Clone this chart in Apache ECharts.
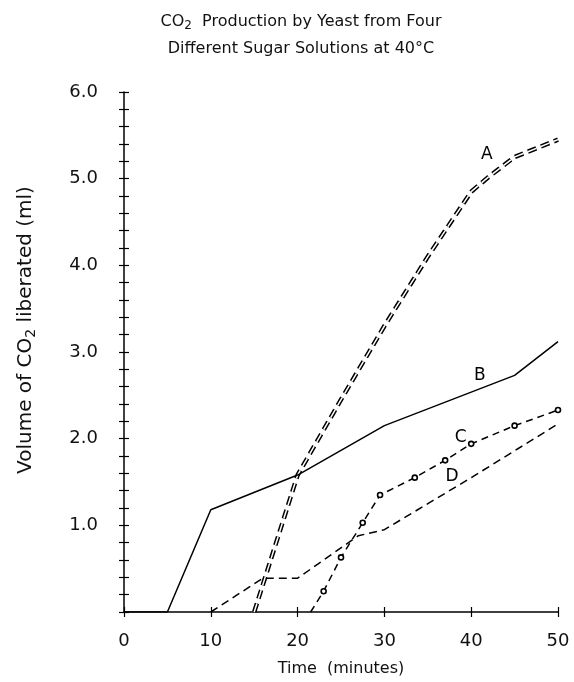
<!DOCTYPE html>
<html>
<head>
<meta charset="utf-8">
<script src="https://cdn.jsdelivr.net/npm/echarts@6/dist/echarts.min.js"></script>
<style>
  html, body { margin: 0; padding: 0; background: #fff; }
  #chart { width: 574px; height: 682px; }
</style>
</head>
<body>
<div id="chart"></div>
<script>
// values: [minutes, ml]
var curveA = [[15, 0], [20, 1.58], [25, 2.45], [30, 3.3], [35, 4.1], [40, 4.85], [42, 5.02], [45, 5.25], [50, 5.45]];
var curveB = [[0, 0], [5, 0], [10, 1.18], [20, 1.58], [30, 2.15], [45, 2.73], [50, 3.12]];
var curveC = [[21.5, 0], [23, 0.24], [25, 0.63], [27.5, 1.03], [29.5, 1.35], [33.5, 1.55], [37, 1.75], [40, 1.94], [45, 2.15], [50, 2.33]];
var curveD = [[10, 0], [16, 0.39], [20, 0.39], [27, 0.88], [30, 0.95], [40, 1.55], [50, 2.17]];

// where the letters sit next to their curves
var labelNames = ['A', 'B', 'C', 'D'];
var labelCoords = [[41.8, 5.28], [41, 2.73], [38.8, 2.01], [37.8, 1.56]];

var font = 'DejaVu Sans';

var myChart = echarts.init(document.getElementById('chart'));

function letter(i) {
  return {
    symbol: 'circle',
    symbolSize: 1,
    itemStyle: { color: 'rgba(0,0,0,0)' },
    label: { show: true, position: 'inside', color: '#000', fontSize: 17, fontFamily: font },
    data: [{ coord: labelCoords[i], value: labelNames[i] }]
  };
}

function yFmt(v) {
  var r = Math.round(v);
  return (Math.abs(v - r) < 1e-6 && r > 0) ? r.toFixed(1) : '';
}

var axisLine = { lineStyle: { color: '#000', width: 1.5 } };

var option = {
  animation: false,
  backgroundColor: '#fff',
  title: {
    left: 296,
    textAlign: 'center',
    top: 3,
    text: '{a|CO}{s|2}{a|  Production by Yeast from Four}\n{a|Different Sugar Solutions at 40°C}',
    textStyle: {
      rich: {
        a: { fontFamily: font, fontSize: 16, fontWeight: 'normal', color: '#111', lineHeight: 27 },
        s: { fontFamily: font, fontSize: 12, fontWeight: 'normal', color: '#111', padding: [9, 0, 0, 0], lineHeight: 27 }
      }
    }
  },
  grid: { left: 124, right: 16, top: 92, bottom: 70 },
  xAxis: [{
    type: 'value',
    min: 0,
    max: 50,
    interval: 10,
    splitLine: { show: false },
    axisLine: axisLine,
    axisTick: { show: true, length: 5, lineStyle: { color: '#000', width: 1.2 } },
    axisLabel: { margin: 20, fontSize: 18, fontFamily: font, color: '#111' },
    name: 'Time  (minutes)',
    nameLocation: 'middle',
    nameGap: 49,
    nameTextStyle: { fontSize: 16, fontFamily: font, color: '#111' }
  }, {
    type: 'value',
    position: 'bottom',
    min: 0,
    max: 50,
    interval: 10,
    splitLine: { show: false },
    axisLine: { show: false },
    axisTick: { show: true, inside: true, length: 5, lineStyle: { color: '#000', width: 1.2 } },
    axisLabel: { show: false }
  }],
  yAxis: [{
    type: 'value',
    min: 0,
    max: 6,
    interval: 0.2,
    splitLine: { show: false },
    axisLine: axisLine,
    axisTick: { show: true, length: 5, lineStyle: { color: '#000', width: 1.2 } },
    axisLabel: { margin: 26, fontSize: 18, fontFamily: font, color: '#111', formatter: yFmt },
    name: '{a|Volume of CO}{s|2}{a| liberated (ml)}',
    nameLocation: 'middle',
    nameGap: 86,
    nameRotate: 90,
    nameTextStyle: {
      padding: [0, 0, 0, 44],
      rich: {
        a: { fontFamily: font, fontSize: 20, color: '#111' },
        s: { fontFamily: font, fontSize: 14, color: '#111', padding: [10, 0, 0, 0] }
      }
    }
  }, {
    type: 'value',
    position: 'left',
    min: 0,
    max: 6,
    interval: 0.2,
    splitLine: { show: false },
    axisLine: { show: false },
    axisTick: { show: true, inside: true, length: 5, lineStyle: { color: '#000', width: 1.2 } },
    axisLabel: { show: false }
  }],
  series: [
    {
      name: 'A',
      type: 'line',
      data: curveA,
      showSymbol: false,
      lineStyle: { color: '#000', width: 4.5, type: [9, 5] },
      z: 3,
      markPoint: letter(0)
    },
    {
      name: 'A inner',
      type: 'line',
      data: curveA,
      showSymbol: false,
      lineStyle: { color: '#fff', width: 1.5, type: [9, 5] },
      z: 4
    },
    {
      name: 'B',
      type: 'line',
      data: curveB,
      showSymbol: false,
      lineStyle: { color: '#000', width: 1.5 },
      z: 5,
      markPoint: letter(1)
    },
    {
      name: 'C',
      type: 'line',
      data: curveC,
      symbol: function (value, params) { return params.dataIndex === 0 ? 'none' : 'circle'; },
      symbolSize: 5,
      itemStyle: { color: '#fff', borderColor: '#000', borderWidth: 1.6 },
      lineStyle: { color: '#000', width: 1.5, type: [7, 5] },
      z: 5,
      markPoint: letter(2)
    },
    {
      name: 'D',
      type: 'line',
      data: curveD,
      showSymbol: false,
      lineStyle: { color: '#000', width: 1.5, type: [8, 5] },
      z: 5,
      markPoint: letter(3)
    }
  ]
};

myChart.setOption(option);
</script>
</body>
</html>
